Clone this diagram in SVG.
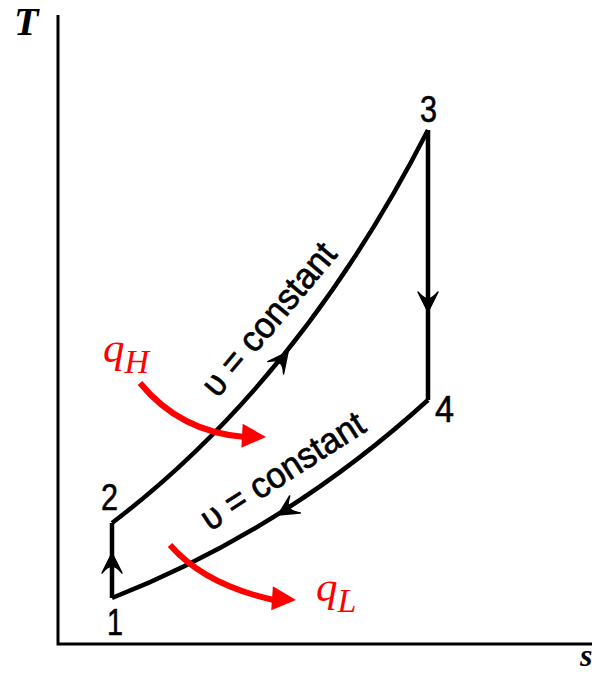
<svg xmlns="http://www.w3.org/2000/svg" width="597" height="674" viewBox="0 0 597 674">
<style>
.ax{stroke:#000;stroke-width:3;fill:none}
.ln{stroke:#000;stroke-width:4.5;fill:none;stroke-linejoin:miter}
.ah{fill:#000;stroke:#000;stroke-width:1.5;stroke-linejoin:round}
.rd{stroke:#ff0000;stroke-width:6;fill:none}
.rh{fill:#ff0000}
.num{font-family:"Liberation Sans",Arial,sans-serif;font-size:36px;fill:#000;stroke:#000;stroke-width:0.6}
.lab{font-family:"Liberation Sans",Arial,sans-serif;font-size:36px;fill:#000;stroke:#000;stroke-width:0.7}
.axl{font-family:"Liberation Serif","Times New Roman",serif;font-style:italic;font-weight:bold;fill:#000}
.q{font-family:"Liberation Serif","Times New Roman",serif;font-style:italic;fill:#ff0000}
</style>
<defs>
<path id="barb" class="ah" d="M0,0 L-20,-10 Q-12,-3 -14,0 Q-12,3 -20,10 Z"/>
<path id="rtri" class="rh" d="M0,0 L-24,-12 L-24,12 Z"/>
</defs>
<g id="axes">
<path class="ax" d="M58,15 L58,644 L592,644"/>
<text class="axl" x="14" y="35" font-size="40">T</text>
<text class="axl" x="580" y="666" font-size="32">s</text>
</g>
<g id="connectors">
<path id="e12" class="ln" d="M112,598 L112,523"/>
<path id="e23" class="ln" d="M112,523 Q300,380 428,130"/>
<path id="e34" class="ln" d="M428,130 L428,400"/>
<path id="e41" class="ln" d="M428,400 Q285,530 112,598"/>
<use href="#barb" transform="translate(112,553) rotate(-90)"/>
<use href="#barb" transform="translate(288,352) rotate(-52)"/>
<use href="#barb" transform="translate(428,312) rotate(90)"/>
<use href="#barb" transform="translate(278,515) rotate(148)"/>
</g>
<g id="n1"><text class="num" x="107" y="635" textLength="16" lengthAdjust="spacingAndGlyphs">1</text></g>
<g id="n2"><text class="num" x="101" y="510" textLength="17" lengthAdjust="spacingAndGlyphs">2</text></g>
<g id="n3"><text class="num" x="420" y="122" textLength="17" lengthAdjust="spacingAndGlyphs">3</text></g>
<g id="n4"><text class="num" x="435" y="422" textLength="19" lengthAdjust="spacingAndGlyphs">4</text></g>
<g id="label-upper"><text class="lab" text-anchor="middle" textLength="188" lengthAdjust="spacingAndGlyphs" transform="translate(278,327) rotate(-50)">υ = constant</text></g>
<g id="label-lower"><text class="lab" text-anchor="middle" textLength="188" lengthAdjust="spacingAndGlyphs" transform="translate(289,481) rotate(-32.7)">υ = constant</text></g>
<g id="qH">
<path class="rd" d="M140,383 Q180,432 245,437"/>
<use href="#rtri" transform="translate(266,437) rotate(3)"/>
<text class="q" x="103" y="362" font-size="43">q<tspan font-size="34" dy="11">H</tspan></text>
</g>
<g id="qL">
<path class="rd" d="M170,545 Q205,585 274,600"/>
<use href="#rtri" transform="translate(296,600) rotate(4)"/>
<text class="q" x="316" y="601" font-size="43">q<tspan font-size="34" dy="11">L</tspan></text>
</g>
</svg>
